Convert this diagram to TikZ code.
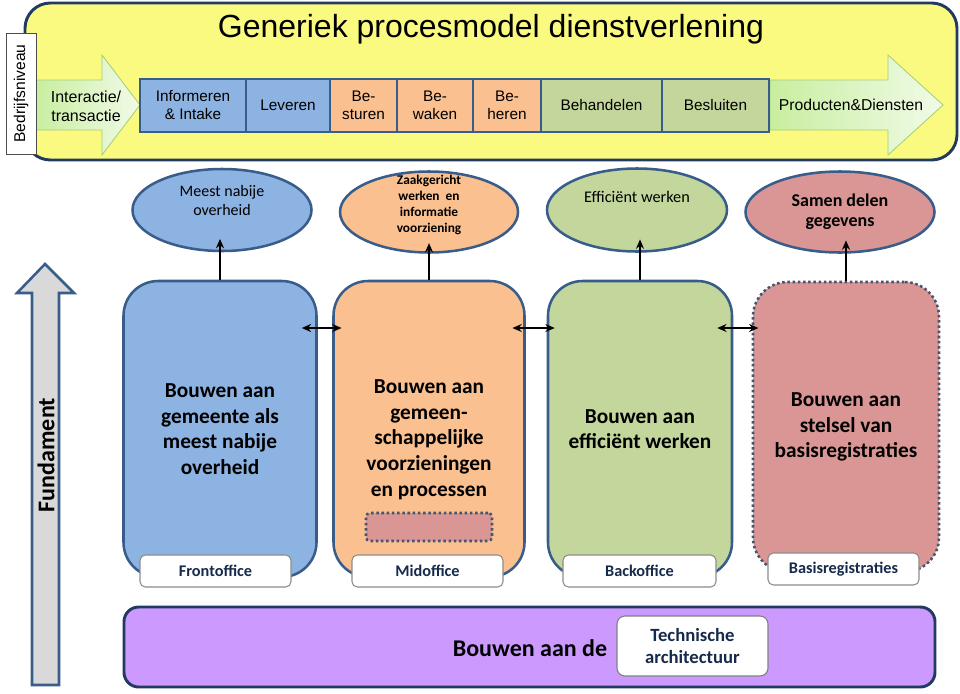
\documentclass[tikz,border=0pt]{standalone}
\usepackage{fontspec}
\setmainfont{Carlito}
\newfontfamily\arialfont{Liberation Sans}
\usetikzlibrary{shapes.geometric,arrows.meta}

\definecolor{edgeblue}{RGB}{56,93,138}
\definecolor{framedark}{RGB}{34,58,96}
\definecolor{fillblue}{RGB}{141,179,226}
\definecolor{fillorange}{RGB}{250,192,144}
\definecolor{fillgreen}{RGB}{195,214,155}
\definecolor{fillred}{RGB}{217,150,148}
\definecolor{fillpurple}{RGB}{204,153,255}
\definecolor{fillyellow}{RGB}{250,250,128}
\definecolor{fundgray}{RGB}{217,217,217}
\definecolor{arrowgreen}{RGB}{200,238,160}
\definecolor{arrowedge}{RGB}{165,205,115}
\definecolor{navytext}{RGB}{22,42,76}

\begin{document}
\begin{tikzpicture}[
  x=0.75pt,y=-0.75pt,
  >={Stealth[length=7pt,width=6pt]},
  procbox/.style={rectangle,draw=edgeblue,line width=2.2pt,minimum height=39.75pt,
    inner sep=0pt,align=center,font=\arialfont\fontsize{11.5}{13.5}\selectfont},
  goal/.style={ellipse,draw=edgeblue,line width=1.9pt,inner sep=0pt},
  pillar/.style={rectangle,rounded corners=26pt,draw=edgeblue,line width=1.9pt,
    minimum height=222pt,inner sep=0pt,align=center,font=\bfseries\fontsize{16}{19.2}\selectfont},
  office/.style={rectangle,rounded corners=4pt,draw=black!45,fill=white,line width=0.8pt,
    minimum width=113.25pt,minimum height=24pt,text=navytext,font=\bfseries\fontsize{12.2}{14}\selectfont},
  flowarrow/.style={draw=arrowedge,line width=0.6pt,left color=arrowgreen,right color=arrowgreen!25!white},
  link/.style={line width=1.2pt,black}
]
\useasboundingbox (0,0) rectangle (960,693);

% business level
\node[rectangle,rounded corners=19pt,draw=framedark,line width=2.2pt,fill=fillyellow,
  minimum width=699pt,minimum height=117.75pt] (biz) at (491,81.5) {};
\node[font=\arialfont\fontsize{24}{28}\selectfont] (title) at (491,29) {Generiek procesmodel dienstverlening};

\path[flowarrow] (35,80) -- (102,80) -- (102,55) -- (140,105) -- (102,155) -- (102,130) -- (35,130) -- cycle;
\path[flowarrow] (770,80) -- (888,80) -- (888,55) -- (943,105) -- (888,155) -- (888,130) -- (770,130) -- cycle;
\node[align=center,font=\arialfont\fontsize{12}{14.5}\selectfont] (inter) at (86,106) {Interactie/\\transactie};
\node[font=\arialfont\fontsize{11.8}{13}\selectfont] (prod) at (851,105) {Producten\&Diensten};

\node[draw=black!70,fill=white,line width=0.7pt,minimum width=22.5pt,minimum height=90.75pt,inner sep=0pt] (lvlbox) at (21,93.5) {};
\node[rotate=90,font=\arialfont\fontsize{11.7}{13}\selectfont] (lvltext) at (lvlbox) {Bedrijfsniveau};

\node[procbox,fill=fillblue,minimum width=79.5pt] (inf) at (193,105.5) {Informeren\\\& Intake};
\node[procbox,fill=fillblue,minimum width=63pt] (lev) at (288,105.5) {Leveren};
\node[procbox,fill=fillorange,minimum width=50.25pt] (bst) at (363.5,105.5) {Be-\\sturen};
\node[procbox,fill=fillorange,minimum width=57pt] (bwk) at (435,105.5) {Be-\\waken};
\node[procbox,fill=fillorange,minimum width=51pt] (bhr) at (507,105.5) {Be-\\heren};
\node[procbox,fill=fillgreen,minimum width=90.75pt] (bhd) at (601.5,105.5) {Behandelen};
\node[procbox,fill=fillgreen,minimum width=80.25pt] (bsl) at (715.5,105.5) {Besluiten};

% goals
\node[goal,fill=fillblue,minimum width=134.25pt,minimum height=61.5pt,
  label={[yshift=7pt,align=center,font=\fontsize{12}{14}\selectfont]center:{Meest nabije\\overheid}}] (e1) at (222,210) {};
\node[goal,fill=fillorange,minimum width=133.5pt,minimum height=60.75pt,
  label={[yshift=5pt,align=center,font=\bfseries\fontsize{10}{12}\selectfont]center:{Zaakgericht\\werken~ en\\informatie\\voorziening}}] (e2) at (429,212) {};
\node[goal,fill=fillgreen,minimum width=135pt,minimum height=62.25pt,
  label={[yshift=10pt,font=\fontsize{12.2}{14}\selectfont]center:{Efficiënt werken}}] (e3) at (637,210) {};
\node[goal,fill=fillred,minimum width=141.75pt,minimum height=60.75pt,
  label={[align=center,font=\bfseries\fontsize{13.5}{15}\selectfont]center:{Samen delen\\gegevens}}] (e4) at (840,212) {};

% fundament
\draw[draw=edgeblue,line width=1.9pt,fill=fundgray,line join=miter]
  (45,264) -- (74,293) -- (59,293) -- (59,685) -- (32,685) -- (32,293) -- (17,293) -- cycle;
\node[rotate=90,font=\bfseries\fontsize{18}{20}\selectfont] (fund) at (46,455) {Fundament};

% pillars
\node[pillar,fill=fillblue,minimum width=144.75pt] (fo) at (220,429) {Bouwen aan\\gemeente als\\meest nabije\\overheid};
\node[pillar,fill=fillorange,minimum width=143.25pt,
  label={[yshift=-8pt,align=center,font=\bfseries\fontsize{16}{19.2}\selectfont]center:{Bouwen aan\\gemeen-\\schappelijke\\voorzieningen\\en processen}}] (mo) at (429,429) {};
\node[pillar,fill=fillgreen,minimum width=138pt] (bo) at (640,429) {Bouwen aan\\efficiënt werken};
\node[pillar,fill=fillred,draw=navytext!80,dotted,line width=1.9pt,minimum width=139.5pt,minimum height=217.5pt] (br) at (846,427) {Bouwen aan\\stelsel van\\basisregistraties};

\node[rectangle,rounded corners=3pt,draw=navytext!80,dotted,line width=1.9pt,fill=fillred,
  minimum width=94.5pt,minimum height=21pt] (shared) at (429,527) {};

\node[office] (lfo) at (215.5,571) {Frontoffice};
\node[office] (lmo) at (427.5,571) {Midoffice};
\node[office,minimum width=114.75pt] (lbo) at (639.5,571) {Backoffice};
\node[office] (lbr) at (843.5,569) {Basisregistraties};

% links
\draw[link,->] (fo.north) -- ([yshift=10pt]fo.north |- e1.south);
\draw[link,->] (mo.north) -- ([yshift=8pt]mo.north |- e2.south);
\draw[link,->] (bo.north) -- ([yshift=10pt]bo.north |- e3.south);
\draw[link,->] (br.north) -- ([yshift=10pt]br.north |- e4.south);

\coordinate (lvl) at (0,328);
\draw[link,<->] ([xshift=-12pt]fo.east |- lvl) -- ([xshift=7pt]mo.west |- lvl);
\draw[link,<->] ([xshift=-10pt]mo.east |- lvl) -- ([xshift=6pt]bo.west |- lvl);
\draw[link,<->] ([xshift=-12pt]bo.east |- lvl) -- ([xshift=5pt]br.west |- lvl);

% technical base
\node[rectangle,rounded corners=11pt,draw=framedark,line width=2.2pt,fill=fillpurple,
  minimum width=608.25pt,minimum height=60pt] (tech) at (529.5,647) {};
\node[font=\bfseries\fontsize{18}{21}\selectfont] (techtext) at (530,648) {Bouwen aan de};
\node[rectangle,rounded corners=6pt,draw=black!50,fill=white,line width=0.8pt,
  minimum width=113.25pt,minimum height=45pt,align=center,text=navytext,
  font=\bfseries\fontsize{14}{17}\selectfont] (arch) at (692.5,646) {Technische\\architectuur};

\end{tikzpicture}
\end{document}
